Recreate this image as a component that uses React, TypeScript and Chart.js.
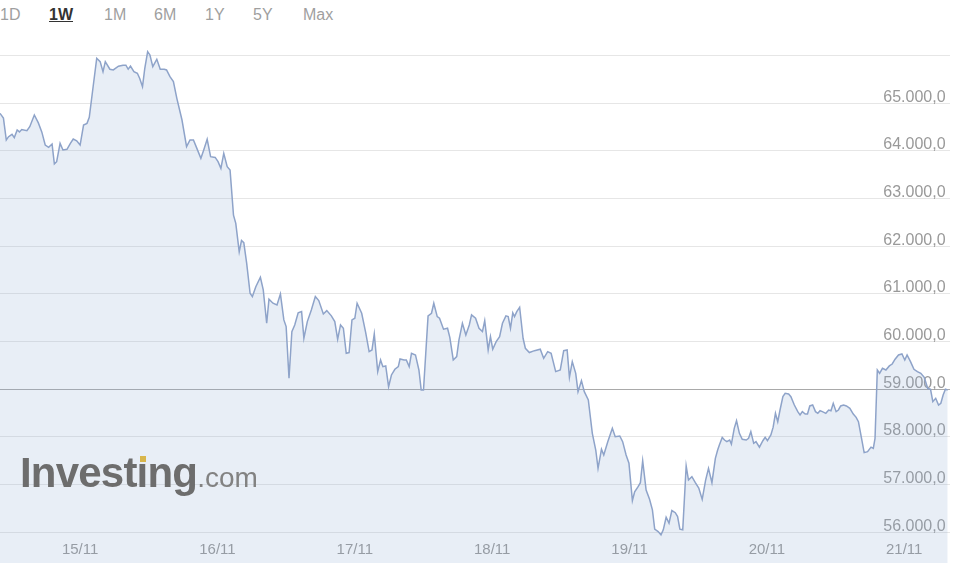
import React, { useEffect, useRef } from 'react';
import { Chart, registerables } from 'chart.js';

Chart.register(...registerables);

// ---- data ----
const tabs = ['1D', '1W', '1M', '6M', '1Y', '5Y', 'Max'];
const activeTab = '1W';

const dayLabels = ['15/11', '16/11', '17/11', '18/11', '19/11', '20/11', '21/11'];
const dayTicks = [0, 24, 48, 72, 96, 120, 144]; // hours since 15/11 00:00

const yTicks = [56000, 57000, 58000, 59000, 60000, 61000, 62000, 63000, 64000, 65000, 66000];
const yLabelled = [56000, 57000, 58000, 59000, 60000, 61000, 62000, 63000, 64000, 65000];

// hours since 15/11 00:00
const hours = [
  -14.0, -13.4, -12.9, -12.5, -11.9, -11.5, -11.0, -10.6, -10.2, -9.3, -8.8, -8.0, -7.3, -6.7, -6.1, -5.5,
  -4.9, -4.5, -4.1, -3.5, -3.0, -2.3, -1.7, -1.2, -0.6, 0.0, 0.6, 1.2, 1.6, 2.2, 2.9, 3.5,
  4.0, 4.4, 5.2, 5.8, 6.7, 7.5, 8.0, 8.4, 8.8, 9.4, 10.0, 10.4, 10.9, 11.3, 11.8, 12.2,
  12.7, 13.4, 14.0, 14.7, 15.1, 15.7, 16.3, 16.9, 17.8, 18.6, 19.2, 19.8, 20.4, 21.1, 21.6, 22.2,
  22.8, 23.6, 24.1, 24.6, 25.1, 25.7, 26.2, 26.8, 27.2, 27.8, 28.2, 28.6, 29.1, 29.7, 30.1, 30.7,
  31.5, 32.0, 32.6, 33.0, 33.7, 34.4, 35.0, 35.6, 36.0, 36.5, 37.0, 37.5, 38.1, 38.7, 39.1, 39.7,
  40.4, 41.1, 41.7, 42.5, 43.1, 43.9, 44.5, 45.0, 45.5, 46.0, 46.5, 47.0, 47.5, 48.0, 48.4, 49.2,
  49.9, 50.5, 51.0, 51.4, 52.0, 52.5, 52.9, 53.4, 53.9, 54.4, 55.0, 55.6, 55.9, 56.6, 57.0, 57.5,
  57.9, 58.6, 59.2, 59.6, 60.0, 60.8, 61.4, 61.8, 62.4, 62.8, 63.5, 64.2, 64.6, 65.2, 65.8, 66.2,
  66.8, 67.4, 68.0, 68.4, 69.1, 69.7, 70.3, 70.7, 71.3, 71.7, 72.1, 72.7, 73.3, 73.8, 74.4, 74.8,
  75.2, 75.6, 75.9, 76.3, 76.8, 77.4, 77.8, 78.5, 79.4, 80.4, 81.0, 81.7, 82.3, 83.1, 83.9, 84.5,
  85.1, 85.5, 86.0, 86.6, 87.0, 87.6, 88.1, 88.8, 89.5, 90.1, 90.5, 91.1, 91.5, 92.2, 93.0, 93.5,
  94.3, 94.8, 95.4, 95.9, 96.5, 96.9, 97.5, 97.9, 98.3, 98.9, 99.5, 100.0, 100.4, 101.0, 101.5, 101.9,
  102.4, 102.9, 103.4, 104.0, 104.4, 104.8, 105.3, 105.9, 106.3, 106.9, 107.5, 108.1, 108.7, 109.3, 109.8, 110.4,
  111.0, 111.4, 111.7, 112.2, 112.6, 113.0, 113.5, 113.8, 114.3, 114.7, 115.2, 115.7, 116.4, 116.8, 117.2, 117.7,
  118.1, 118.7, 119.3, 119.7, 120.1, 120.7, 121.1, 121.5, 121.9, 122.3, 122.8, 123.2, 123.8, 124.2, 124.8, 125.4,
  125.8, 126.2, 126.7, 127.1, 127.5, 128.0, 128.5, 128.9, 129.3, 129.7, 130.3, 130.8, 131.2, 131.6, 132.1, 132.5,
  132.9, 133.4, 133.9, 134.5, 135.1, 135.6, 136.0, 136.6, 137.0, 137.6, 138.2, 138.6, 138.9, 139.3, 139.7, 140.2,
  140.8, 141.4, 141.9, 142.4, 143.0, 143.6, 144.1, 144.5, 145.1, 145.7, 146.3, 146.9, 147.5, 148.1, 148.6, 149.0,
  149.5, 150.0, 150.4, 150.8, 151.2, 151.6,
];

const prices = [
  64790, 64690, 64230, 64300, 64350, 64280, 64440, 64400, 64450, 64425, 64510, 64755, 64590, 64400, 64125, 64075,
  64145, 63730, 63775, 64160, 64020, 64035, 64160, 64250, 64215, 64125, 64545, 64580, 64705, 65280, 65945, 65875,
  65665, 65875, 65715, 65700, 65780, 65800, 65800, 65715, 65780, 65665, 65630, 65525, 65350, 65735, 66085, 66015,
  65770, 65925, 65715, 65715, 65700, 65560, 65455, 65105, 64650, 64090, 64230, 64230, 64055, 63845, 64020, 64245,
  63880, 63865, 63775, 63635, 63950, 63670, 63600, 62655, 62480, 61885, 62120, 62075, 61645, 61015, 60945, 61150,
  61350, 61085, 60385, 60890, 60805, 60770, 61000, 60455, 60315, 59230, 60210, 60350, 60605, 60630, 60070, 60420,
  60665, 60945, 60860, 60580, 60650, 60540, 60420, 60050, 60350, 60280, 59755, 59770, 60455, 60490, 60805, 60595,
  60190, 59790, 59825, 60160, 59370, 59615, 59475, 59490, 59055, 59300, 59420, 59475, 59635, 59615, 59615, 59475,
  59755, 59720, 59405, 58985, 58985, 60540, 60595, 60805, 60525, 60490, 60260, 60280, 60090, 59615, 59685, 60035,
  60385, 60140, 60350, 60560, 60490, 60280, 60210, 60440, 59825, 60105, 59840, 60000, 60105, 60385, 60540, 60525,
  60280, 60605, 60525, 60630, 60720, 60070, 59860, 59770, 59810, 59840, 59650, 59790, 59755, 59370, 59405, 59810,
  59825, 59250, 59580, 59335, 58950, 59180, 58950, 58775, 58075, 57725, 57340, 57740, 57620, 57900, 58180, 58005,
  58020, 57900, 57620, 57450, 56665, 56850, 56955, 57040, 57500, 56885, 56690, 56470, 56065, 56015, 55945, 56050,
  56315, 56190, 56455, 56410, 56330, 56065, 56050, 57390, 57095, 57165, 57040, 56925, 56690, 57095, 57340, 57040,
  57550, 57725, 57830, 57990, 57935, 57900, 57935, 57850, 58180, 58340, 58075, 57950, 57935, 57970, 58110, 57865,
  57900, 57785, 57920, 57990, 57920, 58040, 58205, 58495, 58320, 58565, 58845, 58915, 58900, 58845, 58670, 58530,
  58460, 58530, 58480, 58480, 58650, 58670, 58530, 58495, 58550, 58530, 58495, 58565, 58550, 58705, 58530, 58565,
  58650, 58670, 58650, 58600, 58480, 58410, 58320, 57935, 57670, 57690, 57785, 57760, 57970, 59405, 59335, 59440,
  59405, 59490, 59530, 59630, 59720, 59740, 59615, 59720, 59580, 59420, 59370, 59335, 59250, 59020, 59000, 58740,
  58810, 58670, 58705, 58880, 59000, 58985,
];

const referenceLine = 59000;
const X_MIN = -14;
const X_MAX = 152;
const Y_MIN = 55356;
const Y_MAX = 66327;

const FONT = "'Liberation Sans', Arial, Helvetica, sans-serif";

function fmt(v: number): string {
  const s = Math.round(v).toString().replace(/\B(?=(\d{3})+(?!\d))/g, '.');
  return s + ',0';
}

const tabLeft = [0, 49, 104, 154, 205, 253, 303];

export default function App() {
  const ref = useRef<HTMLCanvasElement>(null);

  useEffect(() => {
    document.body.style.margin = '0';
    document.body.style.overflow = 'hidden';
    const chart = new Chart(ref.current as HTMLCanvasElement, {
      type: 'line',
      data: {
        datasets: [
          {
            data: hours.map((h, i) => ({ x: h, y: prices[i] })),
            borderColor: '#8ea3c9',
            borderWidth: 1.5,
            backgroundColor: 'rgba(140,170,210,0.2)',
            fill: 'start',
            pointRadius: 0,
            tension: 0,
          },
        ],
      },
      options: {
        responsive: false,
        maintainAspectRatio: false,
        animation: false,
        events: [],
        layout: { padding: 0 },
        plugins: { legend: { display: false }, tooltip: { enabled: false } },
        scales: {
          x: {
            type: 'linear',
            min: X_MIN,
            max: X_MAX,
            grid: { display: false, drawTicks: false },
            border: { display: false },
            afterBuildTicks: (scale: any) => {
              scale.ticks = dayTicks.map((value) => ({ value }));
            },
            ticks: {
              autoSkip: false,
              maxRotation: 0,
              mirror: true,
              padding: 0,
              color: '#999999',
              font: { family: FONT, size: 15, lineHeight: '26px' },
              callback: (v: any) => {
                const i = dayTicks.indexOf(Number(v));
                return i >= 0 ? dayLabels[i] : '';
              },
            },
          },
          y: {
            type: 'linear',
            position: 'right',
            min: Y_MIN,
            max: Y_MAX,
            afterBuildTicks: (scale: any) => {
              scale.ticks = yTicks.map((value) => ({ value }));
            },
            grid: {
              drawTicks: false,
              lineWidth: 1,
              color: (c: any) => (c.tick && c.tick.value === referenceLine ? '#a9a9a9' : '#e6e6e6'),
            },
            border: { display: false },
            ticks: {
              autoSkip: false,
              mirror: true,
              padding: 0,
              labelOffset: -6,
              color: '#999999',
              font: { family: FONT, size: 16, lineHeight: 0.01 },
              callback: (v: any) => (yLabelled.indexOf(Number(v)) >= 0 ? fmt(Number(v)) + ' ' : ''),
            },
          },
        },
      },
    });
    return () => chart.destroy();
  }, []);

  return (
    <div style={{ position: 'relative', width: 954, height: 566, background: '#fff', overflow: 'hidden', fontFamily: FONT }}>
      {tabs.map((t, i) => (
        <div
          key={t}
          style={{
            position: 'absolute',
            left: tabLeft[i],
            top: 6,
            fontSize: 16,
            color: t === activeTab ? '#333' : '#9f9f9f',
            fontWeight: t === activeTab ? 'bold' : 'normal',
            textDecoration: t === activeTab ? 'underline' : 'none',
          }}
        >
          {t}
        </div>
      ))}
      <canvas
        ref={ref}
        width={950}
        height={523}
        style={{ position: 'absolute', left: 0, top: 40, width: 950, height: 523, display: 'block' }}
      />
      <div
        style={{
          position: 'absolute',
          left: 20,
          top: 452,
          lineHeight: '42px',
          whiteSpace: 'nowrap',
          pointerEvents: 'none',
        }}
      >
        <span style={{ fontSize: 42, fontWeight: 'bold', letterSpacing: '-0.8px', color: '#6d6d6d' }}>
          Inves{'t'}{'\u0131'}ng
        </span>
        <span style={{ fontSize: 28, color: '#828282' }}>.com</span>
      </div>
      <div style={{ position: 'absolute', left: 140, top: 456, width: 6, height: 6, background: '#d8b64c' }} />
    </div>
  );
}
